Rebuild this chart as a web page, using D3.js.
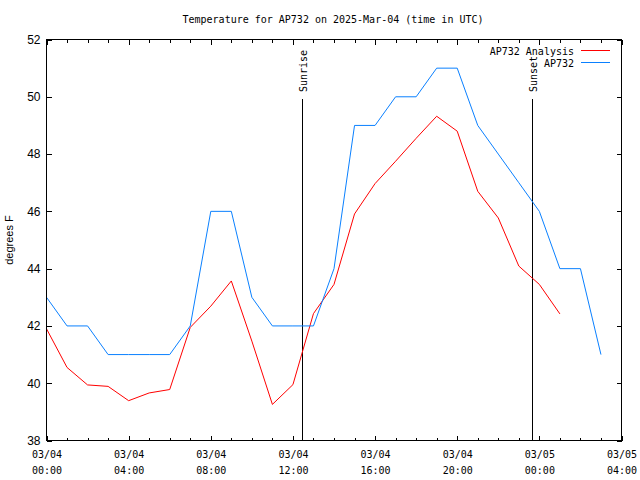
<!DOCTYPE html>
<html><head><meta charset="utf-8">
<script src="https://cdn.jsdelivr.net/npm/d3@7/dist/d3.min.js"></script>
<style>body{margin:0;background:#fff}svg{display:block}</style>
</head><body>
<script>
const title = "Temperature for AP732 on 2025-Mar-04 (time in UTC)";
const yLabel = "degrees F";
const obsHours = [0,1,2,3,4,5,6,7,8,9,10,11,12,13,14,15,16,17,18,19,20,21,22,23,24,25,26,27];
const obsTemps = [43,42,42,41,41,41,41,42,46,46,43,42,42,42,44,49,49,50,50,51,51,49,48,47,46,44,44,41];
const anaHours = [0,1,2,3,4,5,6,7,8,9,10,11,12,13,14,15,16,17,18,19,20,21,22,23,24,25];
const anaTemps = [41.9,40.55,39.94,39.89,39.39,39.66,39.78,41.95,42.69,43.57,41.47,39.26,39.95,42.43,43.45,45.91,46.97,47.75,48.55,49.32,48.8,46.7,45.77,44.09,43.45,42.42];
const xTickHours = [0,4,8,12,16,20,24,28];
const xTickDates = ["03/04","03/04","03/04","03/04","03/04","03/04","03/05","03/05"];
const xTickTimes = ["00:00","04:00","08:00","12:00","16:00","20:00","00:00","04:00"];
const yTicks = [38,40,42,44,46,48,50,52];
const sunEvents = [{label:"Sunrise", hour:12.43},{label:"Sunset", hour:23.65}];
const seriesNames = ["AP732 Analysis","AP732"];
const seriesColors = ["#ff0000","#0a80ff"];

const W=640,H=480;
const L=46.5,R=621.5,T=39.5,B=440.5;
const svg=d3.select("body").append("svg").attr("width",W).attr("height",H);
const x=d3.scaleLinear().domain([0,28]).range([L,R]);
const y=d3.scaleLinear().domain([38,52]).range([B,T]);
const mono="'DejaVu Sans Mono', 'Liberation Mono', monospace";
const sans="'Liberation Sans', Arial, sans-serif";
const fs="10px";

svg.append("text").attr("x",333).attr("y",23).attr("text-anchor","middle")
  .attr("font-family",mono).attr("font-size",fs).text(title);

const g=svg.append("g").attr("stroke","#000").attr("stroke-width",1).attr("shape-rendering","crispEdges");
d3.range(0,29,1).forEach(h=>{
  const len = (h%4===0)?5:3;
  const xx=Math.round(x(h))+0.5;
  g.append("line").attr("x1",xx).attr("x2",xx).attr("y1",B).attr("y2",B-len);
  g.append("line").attr("x1",xx).attr("x2",xx).attr("y1",T).attr("y2",T+len);
});
yTicks.forEach(v=>{
  const yy=Math.round(y(v))+0.5;
  g.append("line").attr("x1",L).attr("x2",L+5).attr("y1",yy).attr("y2",yy);
  g.append("line").attr("x1",R).attr("x2",R-5).attr("y1",yy).attr("y2",yy);
});

const yAxis=svg.append("g").attr("transform",`translate(${L},0)`)
  .call(d3.axisLeft(y).tickValues(yTicks).tickSize(0).tickPadding(6).tickFormat(d3.format("d")));
yAxis.select(".domain").remove();
yAxis.selectAll("text").attr("font-family",sans).attr("font-size","12px").attr("fill","#000");

const xAxis=svg.append("g").attr("transform",`translate(0,${B})`)
  .call(d3.axisBottom(x).tickValues(xTickHours).tickSize(0).tickFormat(()=>""));
xAxis.select(".domain").remove();
xAxis.selectAll(".tick").each(function(d,i){
  const t=d3.select(this);
  t.append("text").attr("y",17).attr("text-anchor","middle").attr("fill","#000")
    .attr("font-family",mono).attr("font-size",fs).text(xTickDates[i]);
  t.append("text").attr("y",33).attr("text-anchor","middle").attr("fill","#000")
    .attr("font-family",mono).attr("font-size",fs).text(xTickTimes[i]);
});

svg.append("text").attr("transform",`translate(13,240) rotate(-90)`).attr("text-anchor","middle")
  .attr("font-family",sans).attr("font-size","11px").text(yLabel);

sunEvents.forEach(s=>{
  const xx=Math.round(x(s.hour))+0.5;
  svg.append("line").attr("x1",xx).attr("x2",xx).attr("y1",99).attr("y2",B)
    .attr("stroke","#000").attr("stroke-width",1).attr("shape-rendering","crispEdges");
  svg.append("text").attr("transform",`translate(${xx+4},92) rotate(-90)`).attr("text-anchor","start")
    .attr("font-family",mono).attr("font-size",fs).text(s.label);
});

const line=d3.line().x(d=>x(d[0])).y(d=>y(d[1]));
svg.append("path").datum(anaHours.map((h,i)=>[h,anaTemps[i]])).attr("d",line)
  .attr("fill","none").attr("stroke",seriesColors[0]).attr("stroke-width",1);
svg.append("path").datum(obsHours.map((h,i)=>[h,obsTemps[i]])).attr("d",line)
  .attr("fill","none").attr("stroke",seriesColors[1]).attr("stroke-width",1);

svg.append("rect").attr("x",L).attr("y",T).attr("width",R-L).attr("height",B-T)
  .attr("fill","none").attr("stroke","#000").attr("stroke-width",1).attr("shape-rendering","crispEdges");

seriesNames.forEach((n,i)=>{
  const ly=50.5+i*12;
  svg.append("text").attr("x",574).attr("y",ly+4).attr("text-anchor","end")
    .attr("font-family",mono).attr("font-size",fs).text(n);
  svg.append("line").attr("x1",581).attr("x2",610).attr("y1",ly).attr("y2",ly)
    .attr("stroke",seriesColors[i]).attr("stroke-width",1).attr("shape-rendering","crispEdges");
});
</script>
</body></html>
